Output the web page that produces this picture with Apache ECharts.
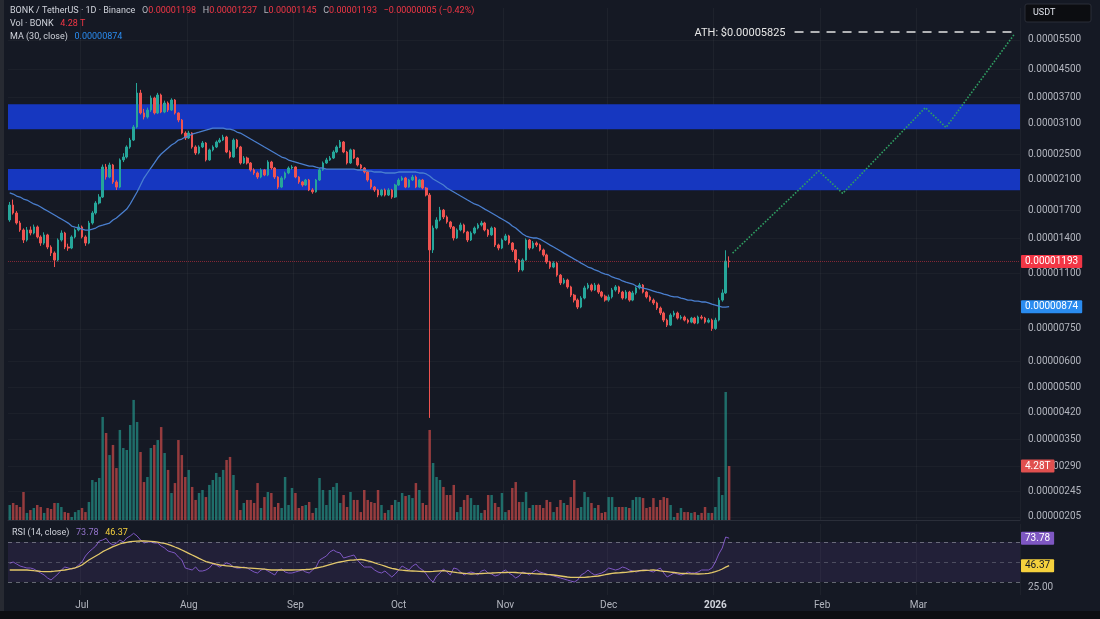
<!DOCTYPE html>
<html><head><meta charset="utf-8">
<script src="https://cdn.jsdelivr.net/npm/echarts@6/dist/echarts.min.js"></script>
<style>html,body{margin:0;padding:0;background:#151924;overflow:hidden}#c{width:1100px;height:619px}</style>
</head><body><div id="c"></div>
<script>
// ---------- data (prices in units of 1e-8 USDT) ----------
const UNIT = 1e-8;
const START_UTC = Date.UTC(2025, 5, 10);   // first category: 2025-06-10
const DAY_COUNT = 294;                      // through 2026-03-30
const monthNames = ['Jan','Feb','Mar','Apr','May','Jun','Jul','Aug','Sep','Oct','Nov','Dec'];
const priceTicks = [5500,4500,3700,3100,2500,2100,1700,1400,1100,750,600,500,420,350,290,245,205];
const rsiTicks = [25];
const PRICE_MIN = 200.8, PRICE_MAX = 6858;
const VOL_MAX = 11.1;          // T
const RSI_MIN = 17, RSI_MAX = 88;
const zones = [[2970, 3530], [1950, 2260]];
const ATH = 5825;
const athStart = '2026-01-24', athEnd = '2026-03-30';
const projDates  = ['2026-01-06','2026-01-31','2026-02-07','2026-03-03','2026-03-09','2026-03-29'];
const projValues = [1265, 2230, 1910, 3450, 3010, 5750];

const open = [1590,1762,1668,1557,1484,1385,1484,1453,1515,1414,
1356,1434,1319,1266,1206,1385,1453,1319,1310,1414,
1484,1515,1414,1356,1557,1668,1787,1862,2291,2138,
2323,2066,1995,2405,2454,2630,2759,3018,3816,3325,
3234,3393,3687,3325,3764,3347,3562,3393,3636,3325,
3167,2896,2798,2896,2630,2523,2630,2703,2405,2577,
2630,2722,2759,2817,2540,2454,2759,2630,2355,2437,
2355,2245,2198,2138,2245,2168,2371,2275,2138,1995,
2124,2198,2275,2291,2138,2066,2023,2094,1955,1930,
2094,2245,2355,2405,2437,2540,2630,2722,2540,2355,
2577,2437,2323,2275,2213,2094,1995,1955,1888,1955,
1888,1955,1862,2023,2094,2124,1995,2094,2138,1995,
2094,1982,1888,1293,1504,1590,1702,1623,1568,1515,
1404,1484,1536,1464,1385,1453,1504,1536,1557,1484,
1434,1504,1338,1310,1385,1424,1356,1293,1206,1126,
1206,1385,1310,1356,1338,1293,1249,1190,1149,1181,
1087,1030,1051,1002,947,915,872,928,995,1015,
981,1015,967,940,915,935,981,1002,967,928,
967,915,961,995,1015,967,935,915,897,866,
837,797,770,825,837,808,814,797,786,808,
781,814,808,786,797,752,797,915,961,1198];
const close = [1762,1668,1557,1484,1385,1484,1453,1515,1414,1356,
1434,1319,1266,1206,1385,1453,1319,1310,1414,1484,
1515,1414,1356,1557,1668,1787,1862,2291,2138,2323,
2066,1995,2405,2454,2630,2759,3018,3816,3325,3234,
3393,3687,3325,3764,3347,3562,3393,3636,3325,3167,
2896,2798,2896,2630,2523,2630,2703,2405,2577,2630,
2722,2759,2817,2540,2454,2759,2630,2355,2437,2355,
2245,2198,2138,2245,2168,2371,2275,2138,1995,2124,
2198,2275,2291,2138,2066,2023,2094,1955,1930,2094,
2245,2355,2405,2437,2540,2630,2722,2540,2355,2577,
2437,2323,2275,2213,2094,1995,1955,1888,1955,1888,
1955,1862,2023,2094,2124,1995,2094,2138,1995,2094,
1982,1888,1293,1504,1590,1702,1623,1568,1515,1404,
1484,1536,1464,1385,1453,1504,1536,1557,1484,1434,
1504,1338,1310,1385,1424,1356,1293,1206,1126,1206,
1385,1310,1356,1338,1293,1249,1190,1149,1181,1087,
1030,1051,1002,947,915,872,928,995,1015,981,
1015,967,940,915,935,981,1002,967,928,967,
915,961,995,1015,967,935,915,897,866,837,
797,770,825,837,808,814,797,786,808,781,
814,808,786,797,752,797,915,961,1198,1193];
const high = [1800,1830,1690,1580,1500,1515,1520,1540,1530,1430,
1460,1445,1335,1280,1400,1480,1465,1350,1430,1500,
1545,1530,1430,1580,1690,1810,1900,2330,2340,2360,
2340,2090,2430,2520,2660,2800,3060,4089,3900,3420,
3450,3750,3720,3820,3800,3620,3600,3680,3660,3340,
3190,2930,2940,2910,2660,2660,2740,2720,2600,2660,
2750,2800,2860,2840,2570,2790,2780,2650,2470,2460,
2370,2270,2220,2270,2260,2400,2390,2290,2150,2150,
2220,2300,2320,2300,2150,2080,2110,2110,1980,2110,
2270,2380,2440,2470,2570,2660,2760,2740,2560,2600,
2590,2450,2340,2290,2230,2110,2010,1970,1970,1975,
1980,1970,2040,2120,2150,2140,2110,2170,2160,2110,
2110,1995,1915,1530,1620,1740,1715,1640,1580,1525,
1500,1560,1550,1475,1470,1520,1555,1580,1570,1495,
1520,1515,1350,1400,1445,1435,1365,1300,1215,1220,
1400,1395,1375,1370,1350,1305,1260,1200,1195,1190,
1095,1065,1060,1010,955,925,940,1010,1030,1025,
1030,1025,975,950,950,995,1015,1010,975,980,
975,975,1005,1030,1022,975,945,925,905,875,
845,805,835,850,845,825,822,805,815,815,
822,825,815,808,805,810,930,985,1290,1237];
const low = [1570,1650,1540,1465,1356,1370,1430,1440,1400,1330,
1340,1300,1240,1149,1195,1370,1300,1285,1300,1400,
1470,1400,1330,1345,1540,1650,1770,1850,2100,2120,
2040,1955,1980,2370,2430,2600,2740,2990,3290,3180,
3200,3350,3290,3300,3320,3320,3350,3370,3290,3120,
2870,2760,2780,2600,2490,2500,2610,2380,2390,2550,
2610,2700,2740,2520,2430,2440,2600,2330,2340,2330,
2220,2170,2110,2120,2150,2150,2250,2110,1970,1980,
2100,2180,2250,2120,2040,2000,2010,1940,1905,1920,
2080,2230,2340,2390,2420,2520,2610,2520,2330,2340,
2420,2300,2250,2190,2070,1970,1930,1860,1870,1870,
1875,1840,1850,2010,2080,1980,1985,2080,1980,1985,
1965,1870,406,1266,1490,1575,1600,1550,1495,1380,
1395,1470,1450,1365,1375,1440,1490,1520,1470,1415,
1425,1320,1290,1300,1375,1340,1275,1180,1110,1115,
1200,1295,1300,1320,1280,1235,1175,1135,1140,1075,
1015,1020,990,935,900,860,865,920,985,970,
975,955,930,905,905,925,970,955,918,920,
905,908,950,985,958,925,905,885,855,825,
786,760,765,815,800,800,790,778,780,775,
775,800,778,780,740,745,790,905,955,1145];
// volume in trillions of BONK
const volume = [1.19,1.35,1.19,1.03,2.22,0.56,0.79,0.95,1.19,1.03,
0.56,0.95,0.87,1.35,1.35,1.03,0.63,0.56,0.24,0.63,
0.79,0.95,0.63,1.43,3.17,3.01,3.33,8.17,6.90,5.15,
5.95,4.12,7.14,5.71,5.55,7.53,9.52,7.77,5.39,3.01,
3.41,5.71,5.95,6.34,7.37,5.31,3.97,2.14,2.93,6.34,
5.15,3.41,3.97,2.62,1.59,2.14,2.38,1.82,2.78,3.17,
3.73,3.41,3.97,4.76,5.00,3.57,2.38,0.79,1.35,1.59,
1.59,1.35,2.93,0.95,1.82,2.22,2.14,1.03,1.35,0.95,
3.41,1.19,2.54,2.14,0.95,1.11,1.19,1.43,0.56,0.95,
3.33,2.38,1.19,2.38,2.62,2.93,1.35,1.98,1.03,2.22,
1.59,1.59,0.63,2.38,1.59,1.43,1.35,2.38,1.19,0.56,
0.79,1.19,1.59,1.43,2.14,1.90,1.98,1.74,2.93,2.38,
1.35,1.19,7.14,4.52,3.41,3.17,2.62,1.98,1.98,2.78,
0.63,1.03,1.59,1.98,1.74,1.19,1.19,0.56,0.79,1.98,
1.98,1.35,1.03,2.14,0.63,0.79,2.54,3.01,1.43,1.43,
2.22,0.95,1.19,1.19,1.19,0.95,1.59,1.43,0.63,1.03,
1.59,1.35,1.19,1.82,3.17,0.95,1.03,2.22,1.82,1.35,
0.95,1.19,0.56,0.63,1.82,1.82,1.03,1.03,1.03,1.03,
0.95,1.59,1.82,1.82,1.74,0.95,1.03,1.74,1.03,1.59,
1.82,1.74,1.19,0.24,0.56,0.95,0.63,0.63,0.56,0.63,
0.40,0.56,1.03,0.56,0.56,1.03,3.41,1.98,10.15,4.28];
const ma30 = [1915,1901,1875,1862,1837,1824,1799,1775,1762,1738,
1714,1691,1668,1645,1622,1600,1578,1556,1525,1514,
1504,1493,1483,1483,1493,1504,1525,1535,1546,1556,
1589,1611,1645,1679,1714,1775,1850,1928,2023,2123,
2198,2275,2354,2437,2505,2558,2611,2666,2703,2759,
2778,2817,2836,2876,2895,2915,2936,2956,2976,2997,
2997,2997,2997,2976,2976,2956,2915,2895,2856,2817,
2778,2740,2703,2666,2629,2593,2558,2523,2488,2454,
2437,2404,2387,2371,2354,2338,2322,2306,2306,2290,
2275,2275,2259,2259,2259,2259,2259,2259,2259,2259,
2259,2244,2244,2244,2228,2228,2213,2213,2213,2198,
2198,2198,2198,2213,2213,2213,2213,2213,2213,2198,
2198,2183,2153,2109,2080,2051,2023,1982,1955,1928,
1901,1875,1850,1824,1799,1775,1762,1738,1714,1691,
1668,1645,1622,1600,1578,1556,1525,1504,1473,1443,
1423,1413,1404,1404,1394,1375,1356,1337,1319,1301,
1283,1265,1248,1231,1214,1198,1181,1165,1149,1141,
1126,1118,1103,1095,1088,1073,1065,1058,1044,1036,
1029,1022,1008,1001,994,988,981,974,967,961,
954,948,941,935,935,928,922,915,915,909,
909,903,903,897,890,884,878,872,872,874];
const rsi = [48.7,50,48,46,45,44,44,43,41,39,
37,34,32,35,38,42,45,44,43,44,
47,50,56,60,63,66,71,72,73.7,69,
67,69,72,70,74,76,78.7,76,72,69,
70,70,69,69,66,64,61,60,59,55,
52,44,43,42,45,41,41,42,44,48,
47,45,47,49,48,45,44,44,45,44,
42,40,39,42,43,41,39,37,42,43,
40,39,39,40,41,42,40,39,42,45,
52,54,56,60,62,60,59,54,55,56,
57,52,48,45,45,45,42,40,39,41,
38,35,38,42,46,44,42,46,48,44,
42,38,33,30,36,39,43,40,37,44,
43,40,37,39,40,39,37,41,42,39,
38,36,37,40,42,39,37,34,36,40,
39,37,40,42,40,39,38,37,36,35,
34,33,32,31,30,32,37,39,42,39,
37,38,39,41,44,43,42,43,45,44,
42,41,40,41,42,42,41,40,42,44,
39,35,37,39,38,37,38,40,39,39,
40,42,42,42,44,50,58,64,75,73.78];
const rsiMa = [42,42,42,42,42,42,41.7,41.3,41,40.6,
40.4,40.3,40.5,40.8,41.2,41.6,42,42.6,43.3,44.2,
45.3,47,49.5,52,54,56,58,60.3,62,63.7,
65.3,66.7,68,69,69.7,70.3,70.6,70.8,71,71,
70.8,70.6,70.3,69.8,69.2,68.7,67.6,66.4,65,63.7,
62,60.3,58.7,57,55.3,53.6,52,50.3,49.5,48.7,
47.8,47,46.6,46.2,45.8,45.3,45,44.7,44.4,44.1,
43.9,43.7,43.4,43.1,42.8,42.4,42,42,42,42,
42,42,42,42.1,42.2,42.4,42.5,42.7,43.2,44,
44.7,45.3,46.3,47.3,48.3,49.3,50,50.7,51.3,51.8,
52,52.3,52.7,52,51.2,50.3,49.2,48,47,45.8,
44.6,43.7,43,42.2,41.8,41.5,41.2,41,40.8,40.6,
40.5,40.3,40.4,40.6,40.9,41.1,41.3,40.8,40.3,39.8,
39.3,39,38.7,38.3,38,38.2,38.4,38.5,38.7,38.9,
39,39.2,39.3,39.4,39.5,39.6,39.7,39.5,39.2,39,
38.7,38.6,38.4,38.2,38,37.8,37.5,37.3,37,36.5,
36,35.5,35,34.7,34.7,34.7,34.7,34.7,35,35.3,
35.7,36,36.7,37.3,38,38.7,39,39.2,39.5,39.7,
40.1,40.5,40.9,41.3,41.5,41.7,41.8,42,41.6,41.1,
40.7,40.3,39.9,39.5,39.1,38.7,38.5,38.3,38.2,38.1,
38,38.2,38.4,38.7,39.3,40.3,41.5,43,44.8,46.37];

// ---------- build ----------
const FONT = 'Roboto, "Noto Sans", sans-serif';
const UP = '#26a69a', DOWN = '#ef5350';
const categories = [];
for (let i = 0; i < DAY_COUNT; i++) categories.push(new Date(START_UTC + i * 86400000).toISOString().slice(0, 10));
const isMonthStart = (idx, val) => String(val).slice(8) === '01';
const fmt8 = v => (v * UNIT).toFixed(8);
const last = close.length - 1;
const candleData = open.map((o, i) => [o, close[i], low[i], high[i]]);
const volData = volume.map((v, i) => ({ value: v, itemStyle: { color: close[i] >= open[i] ? 'rgba(38,166,154,0.6)' : 'rgba(239,83,80,0.6)' } }));
const projData = projDates.map((d, i) => [d, projValues[i]]);
const chg = close[last] - close[last - 1];
const chgTxt = (chg < 0 ? '\u2212' : '+') + fmt8(Math.abs(chg)) + ' (' + (chg < 0 ? '\u2212' : '+') + (Math.abs(chg) / close[last - 1] * 100).toFixed(2) + '%)';

const boxLabel = (text, bg, fg) => ({ show: true, position: 'end', distance: 1, formatter: () => text, backgroundColor: bg, color: fg, padding: [2, 4, 1, 4], fontSize: 10, fontFamily: FONT, borderRadius: 1 });
const hideLine = { color: 'rgba(0,0,0,0)', width: 1, type: 'solid' };
const gridL = 8, gridR = 80;
const xBase = (gi, extra) => Object.assign({ type: 'category', gridIndex: gi, data: categories, boundaryGap: true,
  axisLine: { show: false }, axisTick: { show: false }, axisLabel: { show: false },
  splitLine: { show: true, interval: isMonthStart, lineStyle: { color: 'rgba(255,255,255,0.04)' } } }, extra || {});

const r = (t, k) => '{' + k + '|' + t + '}';
const rs = (fill, weight) => ({ fill: fill, fontSize: 9, fontFamily: FONT, fontWeight: weight || 'normal' });

const option = {
  animation: false,
  backgroundColor: '#151924',
  textStyle: { fontFamily: FONT },
  grid: [
    { left: gridL, right: gridR, top: 8, bottom: 99 },
    { left: gridL, right: gridR, top: 380, bottom: 99 },
    { left: gridL, right: gridR, top: 524, bottom: 24 }
  ],
  xAxis: [
    xBase(0),
    xBase(1, { splitLine: { show: false }, axisLine: { show: true, lineStyle: { color: '#2a2e39', width: 1 } } }),
    xBase(2, { axisLabel: { show: true, interval: isMonthStart, margin: 5, color: '#b2b5be', fontSize: 10, fontFamily: FONT,
      formatter: v => { const m = +v.slice(5, 7); return m === 1 ? '{y|' + v.slice(0, 4) + '}' : monthNames[m - 1]; },
      rich: { y: { fontWeight: 'bold', color: '#d1d4dc', fontSize: 10, fontFamily: FONT } } } })
  ],
  yAxis: [
    { type: 'log', logBase: 10, gridIndex: 0, position: 'right', min: PRICE_MIN, max: PRICE_MAX,
      axisLine: { show: false }, axisTick: { show: false, customValues: priceTicks },
      axisLabel: { customValues: priceTicks, formatter: v => fmt8(v), color: '#b2b5be', fontSize: 10, margin: 8, fontFamily: FONT },
      splitLine: { show: true, lineStyle: { color: 'rgba(255,255,255,0.03)' } } },
    { type: 'value', gridIndex: 1, min: 0, max: VOL_MAX, show: false, splitLine: { show: false } },
    { type: 'value', gridIndex: 2, position: 'right', min: RSI_MIN, max: RSI_MAX,
      axisLine: { show: false }, axisTick: { show: false, customValues: rsiTicks },
      axisLabel: { customValues: rsiTicks, formatter: v => v.toFixed(2), color: '#b2b5be', fontSize: 10, margin: 8, fontFamily: FONT },
      splitLine: { show: false } }
  ],
  series: [
    { type: 'candlestick', name: 'BONK', xAxisIndex: 0, yAxisIndex: 0, data: candleData, barWidth: '60%', z: 2,
      itemStyle: { color: UP, color0: DOWN, borderColor: UP, borderColor0: DOWN, borderWidth: 1 },
      markArea: { silent: true, itemStyle: { color: '#1637c0', opacity: 1 },
        data: zones.map(z => [{ yAxis: z[0] }, { yAxis: z[1] }]) },
      markLine: { silent: true, symbol: ['none', 'none'],
        data: [{ yAxis: close[last], lineStyle: { color: 'rgba(242,54,69,0.5)', type: 'dotted', width: 1 },
          label: boxLabel(fmt8(close[last]), '#f23645', '#ffffff') }] } },
    { type: 'line', name: 'MA 30', xAxisIndex: 0, yAxisIndex: 0, data: ma30, showSymbol: false, z: 3,
      lineStyle: { color: '#4a7fcf', width: 1.3 },
      markLine: { silent: true, symbol: ['none', 'none'],
        data: [{ yAxis: ma30[last], lineStyle: hideLine, label: boxLabel(fmt8(ma30[last]), '#2a8cf0', '#ffffff') }] } },
    { type: 'line', name: 'Projection', xAxisIndex: 0, yAxisIndex: 0, data: projData, showSymbol: false, z: 3,
      lineStyle: { color: '#2f9e62', width: 1.6, type: 'dotted' },
      markLine: { silent: true, symbol: ['none', 'none'],
        data: [[{ coord: [athStart, ATH] }, { coord: [athEnd, ATH] }]],
        lineStyle: { color: '#e4e4e4', width: 1.6, type: [9, 7] },
        label: { show: true, position: 'start', distance: 9, formatter: () => 'ATH: $' + fmt8(ATH), color: '#e6e6e6', fontSize: 11, fontFamily: FONT, offset: [0, 2] } } },
    { type: 'bar', name: 'Volume', xAxisIndex: 1, yAxisIndex: 1, data: volData, barWidth: '72%', z: 1,
      markLine: { silent: true, symbol: ['none', 'none'],
        data: [{ yAxis: volume[last], lineStyle: hideLine, label: boxLabel(volume[last].toFixed(2) + 'T', '#e0504f', '#ffffff') }] } },
    { type: 'line', name: 'RSI', xAxisIndex: 2, yAxisIndex: 2, data: rsi, showSymbol: false, z: 3,
      lineStyle: { color: '#7e57c2', width: 1 },
      markArea: { silent: true, itemStyle: { color: 'rgba(126,87,194,0.13)' }, data: [[{ yAxis: 30 }, { yAxis: 70 }]] },
      markLine: { silent: true, symbol: ['none', 'none'],
        data: [
          { yAxis: 70, lineStyle: { color: 'rgba(178,181,190,0.5)', type: [4, 4], width: 1 }, label: { show: false } },
          { yAxis: 50, lineStyle: { color: 'rgba(178,181,190,0.3)', type: [4, 4], width: 1 }, label: { show: false } },
          { yAxis: 30, lineStyle: { color: 'rgba(178,181,190,0.5)', type: [4, 4], width: 1 }, label: { show: false } },
          { yAxis: rsi[last], lineStyle: hideLine, label: boxLabel(rsi[last].toFixed(2), '#7e57c2', '#ffffff') }
        ] } },
    { type: 'line', name: 'RSI MA', xAxisIndex: 2, yAxisIndex: 2, data: rsiMa, showSymbol: false, z: 4,
      lineStyle: { color: '#e3c86a', width: 1.3 },
      markLine: { silent: true, symbol: ['none', 'none'],
        data: [{ yAxis: rsiMa[last], lineStyle: hideLine, label: boxLabel(rsiMa[last].toFixed(2), '#f5d13d', '#131722') }] } }
  ],
  graphic: [
    { type: 'rect', shape: { x: 0, y: 0, width: 4, height: 619 }, style: { fill: '#272a32' }, silent: true, z: 10 },
    { type: 'rect', shape: { x: 0, y: 611, width: 1100, height: 8 }, style: { fill: '#0d0e12' }, silent: true, z: 10 },
    { type: 'text', x: 10, y: 11, silent: true, z: 10, style: { verticalAlign: 'middle',
      text: r('BONK / TetherUS \u00b7 1D \u00b7 Binance', 't') + '  ' + r('O', 'k') + r(fmt8(open[last]), 'v') + '  ' + r('H', 'k') + r(fmt8(high[last]), 'v') + '  ' + r('L', 'k') + r(fmt8(low[last]), 'v') + '  ' + r('C', 'k') + r(fmt8(close[last]), 'v') + '  ' + r(chgTxt, 'v'),
      rich: { t: rs('#d1d4dc'), k: rs('#b2b5be'), v: rs('#f23645') } } },
    { type: 'text', x: 10, y: 24, silent: true, z: 10, style: { verticalAlign: 'middle',
      text: r('Vol \u00b7 BONK', 't') + '  ' + r(volume[last].toFixed(2) + ' T', 'v'),
      rich: { t: rs('#d1d4dc'), v: rs('#f23645') } } },
    { type: 'text', x: 10, y: 37, silent: true, z: 10, style: { verticalAlign: 'middle',
      text: r('MA (30, close)', 't') + '  ' + r(fmt8(ma30[last]), 'v'),
      rich: { t: rs('#d1d4dc'), v: rs('#2a8cf0') } } },
    { type: 'text', x: 12, y: 533, silent: true, z: 10, style: { verticalAlign: 'middle',
      text: r('RSI (14, close)', 't') + '  ' + r(rsi[last].toFixed(2), 'p') + '  ' + r(rsiMa[last].toFixed(2), 'y'),
      rich: { t: rs('#d1d4dc'), p: rs('#9575cd'), y: rs('#f5d13d') } } },
    { type: 'group', x: 1025, y: 4, silent: true, z: 10, children: [
      { type: 'rect', shape: { x: 0, y: 0, width: 66, height: 18, r: 2 }, style: { fill: '#0c0d11', stroke: '#2a2e39', lineWidth: 1 } },
      { type: 'text', x: 8, y: 9, style: { text: 'USDT', fill: '#e0e3eb', fontSize: 9, fontFamily: FONT, verticalAlign: 'middle' } }
    ] }
  ]
};
const chart = echarts.init(document.getElementById('c'), null, { renderer: 'canvas' });
chart.setOption(option);
</script>
</body></html>
